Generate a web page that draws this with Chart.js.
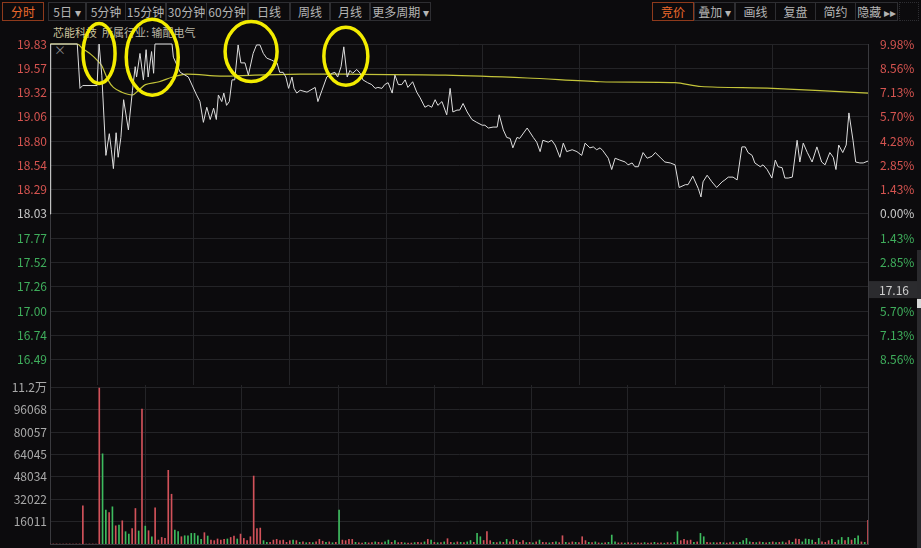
<!DOCTYPE html>
<html>
<head>
<meta charset="utf-8">
<script src="https://cdn.jsdelivr.net/npm/chart.js@4.4.1/dist/chart.umd.min.js"></script>
<style>
html, body { margin: 0; padding: 0; background: #0c0b0d; width: 921px; height: 548px; overflow: hidden;
  font-family: "Noto Sans CJK SC", "Noto Sans", sans-serif; }
.btn { position: absolute; top: 2px; height: 19px; border: 1px solid #2e2e32; color: #b4b4b4; font-size: 12px;
  line-height: 17px; text-align: center; box-sizing: border-box; z-index: 1; }
.on { border-color: #8e3a1c; color: #ee6a2c; }
.title { position: absolute; top: 24px; font-size: 11px; color: #cbc39c; z-index: 1; }
#pc { position: absolute; left: 0; top: 0; z-index: 2; }
#vc { position: absolute; left: 0; top: 373px; z-index: 3; }
#scroll { position: absolute; left: 917px; top: 250px; width: 4px; height: 298px; background: #2a2a2d; z-index: 4; }
#knob { position: absolute; left: 917px; top: 299px; width: 4px; height: 9px; background: #d8d8d8; z-index: 5; }
</style>
</head>
<body>
<div class="btn on" style="left:2px;width:42px">分时</div>
<div class="btn" style="left:48px;width:38px">5日 ▾</div>
<div class="btn" style="left:86px;width:40px">5分钟</div>
<div class="btn" style="left:125px;width:41px">15分钟</div>
<div class="btn" style="left:166px;width:41px">30分钟</div>
<div class="btn" style="left:206px;width:42px">60分钟</div>
<div class="btn" style="left:248px;width:42px">日线</div>
<div class="btn" style="left:290px;width:40px">周线</div>
<div class="btn" style="left:330px;width:40px">月线</div>
<div class="btn" style="left:370px;width:61px">更多周期 ▾</div>
<div class="btn on" style="left:652px;width:42px">竞价</div>
<div class="btn" style="left:694px;width:41px">叠加 ▾</div>
<div class="btn" style="left:735px;width:41px">画线</div>
<div class="btn" style="left:775px;width:41px">复盘</div>
<div class="btn" style="left:815px;width:41px">简约</div>
<div class="btn" style="left:855px;width:43px">隐藏 ▸▸</div>
<div class="btn" style="left:899px;width:20px;border-style:dotted">&nbsp;</div>
<div class="title" style="left:53px">芯能科技</div>
<div class="title" style="left:102px;color:#b9b6a6">所属行业: 输配电气</div>
<div class="title" style="left:54px;top:41px;color:#8a8a8a;font-size:12px">×</div>
<div id="scroll"></div><div id="knob"></div>
<canvas id="pc" width="921" height="397"></canvas>
<canvas id="vc" width="921" height="185"></canvas>
<script>
// 5-day intraday, x axis in trading minutes (5 x 240)
const prevClose = 18.03;
const priceTicks = [19.83, 19.57, 19.32, 19.06, 18.80, 18.54, 18.29, 18.03, 17.77, 17.52, 17.26, 17.00, 16.74, 16.49];
const pctLabels = ['9.98%', '8.56%', '7.13%', '5.70%', '4.28%', '2.85%', '1.43%', '0.00%', '1.43%', '2.85%', '4.28%', '5.70%', '7.13%', '8.56%'];
const volTicks = [16011, 32022, 48034, 64045, 80057, 96068, 112079];
const volLabels = ['16011', '32022', '48034', '64045', '80057', '96068', '11.2万'];
const gridT = [69, 210, 352, 494, 635, 777, 918, 1060];

const priceT = [0, 1, 40, 44, 48, 69, 72, 76, 82, 87, 90, 93, 97, 100, 104, 108, 115, 121, 125, 127,
  132, 137, 141, 144, 149, 152, 154, 179, 181, 191, 203, 215, 220, 225, 230, 235, 240, 244, 247, 252,
  255, 259, 263, 267, 271, 276, 280, 286, 291, 298, 303, 308, 313, 318, 325, 333, 337, 342, 346, 350,
  355, 358, 362, 367, 377, 389, 393, 399, 406, 414, 418, 422, 427, 431, 436, 440, 444, 450, 455, 459,
  466, 472, 477, 481, 487, 491, 496, 502, 506, 511, 516, 521, 525, 532, 538, 543, 550, 555, 560, 565,
  569, 575, 582, 587, 591, 597, 601, 606, 612, 619, 626, 634, 638, 643, 650, 656, 659, 665, 670, 675,
  679, 685, 689, 700, 709, 714, 719, 723, 731, 736, 741, 748, 753, 758, 766, 773, 780, 785, 792, 797,
  802, 807, 811, 819, 824, 829, 836, 844, 848, 854, 858, 863, 870, 876, 883, 888, 895, 902, 910, 917,
  923, 932, 936, 943, 951, 955, 958, 964, 971, 978, 986, 990, 995, 1002, 1008, 1015, 1020, 1024, 1030, 1034,
  1042, 1046, 1052, 1059, 1064, 1068, 1074, 1078, 1083, 1089, 1096, 1100, 1105, 1111, 1118, 1125, 1132, 1137, 1144, 1149,
  1153, 1157, 1163, 1168, 1172, 1178, 1182, 1188, 1193, 1200];
const priceV = [18.03, 19.83, 19.83, 19.36, 19.39, 19.39, 19.83, 19.50, 18.65, 18.88, 18.71, 18.51, 18.89, 18.63, 18.84, 19.24, 18.92, 19.34, 19.59, 19.48,
  19.73, 19.45, 19.77, 19.48, 19.75, 19.52, 19.83, 19.83, 19.69, 19.53, 19.48, 19.29, 19.22, 19.00, 19.16, 19.03, 19.15, 19.03, 19.29, 19.22,
  19.31, 19.18, 19.22, 19.45, 19.45, 19.82, 19.63, 19.63, 19.50, 19.73, 19.82, 19.82, 19.73, 19.68, 19.66, 19.63, 19.53, 19.53, 19.48, 19.36,
  19.48, 19.36, 19.31, 19.34, 19.32, 19.37, 19.22, 19.34, 19.48, 19.52, 19.53, 19.48, 19.59, 19.80, 19.48, 19.55, 19.52, 19.56, 19.52, 19.45,
  19.42, 19.40, 19.36, 19.37, 19.36, 19.40, 19.42, 19.31, 19.50, 19.40, 19.40, 19.45, 19.37, 19.43, 19.32, 19.26, 19.16, 19.18, 19.16, 19.24,
  19.18, 19.22, 19.08, 19.36, 19.11, 19.13, 19.13, 19.20, 19.11, 19.03, 19.00, 18.97, 18.97, 18.94, 18.95, 18.95, 19.08, 18.92, 18.84, 18.83,
  18.73, 18.84, 18.83, 18.94, 18.84, 18.79, 18.69, 18.81, 18.79, 18.81, 18.76, 18.63, 18.78, 18.69, 18.71, 18.69, 18.65, 18.78, 18.73, 18.74,
  18.71, 18.73, 18.70, 18.62, 18.50, 18.62, 18.60, 18.58, 18.55, 18.57, 18.53, 18.53, 18.68, 18.62, 18.64, 18.68, 18.63, 18.58, 18.57, 18.55,
  18.31, 18.34, 18.34, 18.43, 18.30, 18.21, 18.37, 18.44, 18.37, 18.31, 18.37, 18.39, 18.42, 18.42, 18.39, 18.74, 18.74, 18.68, 18.65, 18.57,
  18.53, 18.55, 18.50, 18.41, 18.60, 18.53, 18.52, 18.41, 18.41, 18.42, 18.81, 18.58, 18.78, 18.68, 18.58, 18.74, 18.58, 18.55, 18.68, 18.63,
  18.50, 18.76, 18.68, 18.76, 19.10, 18.81, 18.58, 18.57, 18.57, 18.59];

// average price line
const avgT = [0, 40, 48, 60, 69, 76, 85, 93, 105, 121, 130, 140, 160, 180, 200, 250, 300, 367, 430, 580, 700, 807, 917, 955, 1060, 1200];
const avgV = [19.83, 19.83, 19.78, 19.72, 19.66, 19.60, 19.45, 19.37, 19.32, 19.29, 19.34, 19.40, 19.43, 19.48, 19.51, 19.49, 19.50, 19.51, 19.51, 19.50, 19.47, 19.43, 19.42, 19.38, 19.36, 19.31];

// volume per bar (250 bars across the 5 days); side: r = up tick, g = down tick
const volume = [
  0, 0, 0, 0, 0, 0, 0, 0, 0, 0,
  27300, 0, 0, 0, 0, 111500, 64500, 24200, 22500, 26600,
  13000, 13500, 16600, 8800, 7100, 11100, 25400, 9300, 96500, 12800,
  9500, 5200, 25900, 2800, 4700, 4000, 52700, 35600, 10000, 8800,
  5200, 5900, 5900, 7600, 7600, 5900, 3300, 8100, 5700, 2800,
  2400, 3600, 2800, 3300, 3600, 4700, 5700, 3600, 7100, 4000,
  2400, 5200, 48600, 11100, 11400, 2400, 1200, 1200, 2800, 3300,
  2400, 2800, 1200, 2400, 2800, 2400, 1200, 1500, 900, 1200,
  1000, 1500, 3300, 2000, 1200, 1500, 900, 1200, 24200, 2800,
  2400, 3300, 3300, 1200, 900, 700, 1200, 800, 1000, 1500,
  1200, 900, 1500, 2800, 1200, 2400, 1000, 1200, 800, 600,
  700, 1000, 1200, 900, 1500, 3300, 2800, 1200, 900, 1000,
  1500, 3800, 1200, 900, 1500, 1200, 1000, 1500, 2500, 1200,
  7600, 5200, 2500, 8800, 2400, 1200, 1000, 1500, 1200, 3300,
  1500, 3300, 2400, 1200, 2400, 1000, 1200, 900, 1500, 2800,
  1200, 1000, 800, 1200, 1500, 1000, 5900, 1200, 900, 1500,
  1200, 1000, 5200, 2400, 1200, 1000, 1500, 800, 600, 900,
  1200, 6400, 1500, 800, 900, 700, 1000, 800, 600, 900,
  700, 1000, 600, 800, 1200, 700, 900, 600, 1000, 800,
  1200, 8800, 2400, 3300, 2400, 2800, 1200, 1500, 7600, 5200,
  1200, 900, 1000, 800, 1200, 900, 700, 1000, 1500, 800,
  1200, 2400, 4000, 1500, 1200, 1000, 1500, 1200, 900, 1200,
  1500, 1000, 1200, 1500, 900, 2400, 1200, 3600, 3300, 1500,
  3600, 3300, 2800, 1200, 4000, 1500, 1200, 2400, 3300, 1200,
  2800, 4700, 2400, 4700, 2800, 4000, 5900, 1500, 1200, 17000];
const volSide = (
  'rrrrrrrrrr' + 'rrrrrrggrg' + 'rgrggrrgrg' + 'rgrrrrrrgg' + 'rggggggrgr' +
  'rrrrgrrgrr' + 'rrrrrggrrr' + 'rrrrgrgrgr' + 'grrrgrgrgr' + 'rrrgrrgrrg' +
  'rrggrgrrgr' + 'rgrrgrgrgr' + 'grrgrgrggr' + 'ggrrrgrgrg' + 'rrgrrgrgrg' +
  'rrgrgrrgrr' + 'grrrgrgrgr' + 'gggrrgrrgr' + 'rgrrgrrgrr' + 'ggrrrrgrgg' +
  'rrgrrgrrgr' + 'ggggrgrgrg' + 'rgrgrrgrrg' + 'gggrgrrrgr' + 'ggrgrggrgr').split('');
const cursorPrice = 17.16;
const ringT = [72, 150, 295, 434];
const ringP = [19.73, 19.69, 19.75, 19.70];

const FONT = '"Noto Sans CJK SC", "Noto Sans", sans-serif';
const RED = '#d65450', GREEN = '#3fae5c', GREY = '#c8c8c8';
const GRID = '#242427', EDGE = '#3a3a3e';

const priceColor = v => v > prevClose + 0.001 ? RED : (v < prevClose - 0.001 ? GREEN : GREY);

const ringPlugin = {
  id: 'rings',
  afterDraw(chart) {
    const { ctx, scales: { x, y } } = chart;
    const radii = [[16, 30], [26, 38], [26, 30], [22, 29]];
    ctx.save();
    ctx.strokeStyle = '#f3ec00';
    ctx.lineWidth = 3.5;
    ringT.forEach((t, i) => {
      ctx.beginPath();
      ctx.ellipse(x.getPixelForValue(t), y.getPixelForValue(ringP[i]), radii[i][0], radii[i][1], 0, 0, Math.PI * 2);
      ctx.stroke();
    });
    // hover price tag on the right axis
    const py = y.getPixelForValue(cursorPrice);
    const left = chart.chartArea.right + 1;
    ctx.fillStyle = '#2b2b2e';
    ctx.fillRect(left, py - 15, 48, 17);
    ctx.fillStyle = '#cfcfcf';
    ctx.font = '12px ' + FONT;
    ctx.textAlign = 'center';
    ctx.textBaseline = 'middle';
    ctx.fillText(cursorPrice.toFixed(2), left + 25, py - 6);
    ctx.restore();
  }
};

const xScale = {
  type: 'linear', min: 0, max: 1200,
  afterBuildTicks: s => { s.ticks = gridT.map(v => ({ value: v })); },
  afterFit: s => { s.height = 0; },
  ticks: { display: false },
  grid: { color: GRID, drawTicks: false },
  border: { display: false }
};

new Chart(document.getElementById('pc'), {
  type: 'line',
  data: {
    datasets: [
      { data: priceT.map((t, i) => ({ x: t, y: priceV[i] })), borderColor: '#dedede', borderWidth: 1,
        pointRadius: 0, tension: 0, clip: 8, order: 1 },
      { data: avgT.map((t, i) => ({ x: t, y: avgV[i] })), borderColor: '#c4c43a', borderWidth: 1.2,
        pointRadius: 0, tension: 0.3, clip: 8, order: 2 }
    ]
  },
  options: {
    responsive: false, animation: false, events: [],
    layout: { padding: { top: 44, bottom: 12, left: 0, right: 0 } },
    plugins: { legend: { display: false }, tooltip: { enabled: false } },
    scales: {
      x: xScale,
      y: {
        position: 'left', min: 16.218, max: 19.83,
        afterBuildTicks: s => { s.ticks = priceTicks.map(v => ({ value: v })); },
        afterFit: s => { s.width = 50; },
        ticks: { autoSkip: false, padding: 3, font: { size: 12, family: FONT },
          color: c => priceColor(c.tick.value), callback: v => v.toFixed(2) },
        grid: { color: GRID, drawTicks: false },
        border: { display: true, color: EDGE }
      },
      y1: {
        position: 'right', min: 16.218, max: 19.83,
        afterBuildTicks: s => { s.ticks = priceTicks.map(v => ({ value: v })); },
        afterFit: s => { s.width = 53; },
        ticks: { autoSkip: false, padding: 4, font: { size: 12, family: FONT },
          color: c => priceColor(c.tick.value), callback: (v, i) => pctLabels[i] },
        grid: { display: false },
        border: { display: true, color: EDGE }
      }
    }
  },
  plugins: [ringPlugin]
});

new Chart(document.getElementById('vc'), {
  type: 'bar',
  data: {
    datasets: [{
      data: volume.map((v, i) => ({ x: i * 1200 / (volume.length - 1), y: v })),
      backgroundColor: volSide.map(s => s === 'g' ? '#3dbb5e' : '#d2525a'),
      barThickness: 1, categoryPercentage: 1, barPercentage: 1
    }]
  },
  options: {
    responsive: false, animation: false, events: [],
    layout: { padding: { top: 12, bottom: 14, left: 0, right: 0 } },
    plugins: { legend: { display: false }, tooltip: { enabled: false } },
    scales: {
      x: Object.assign({}, xScale, { offset: false, border: { display: true, color: EDGE } }),
      y: {
        position: 'left', min: 0, max: 113724,
        afterBuildTicks: s => { s.ticks = volTicks.map(v => ({ value: v })); },
        afterFit: s => { s.width = 50; },
        ticks: { autoSkip: false, padding: 3, color: '#a9a9a9', font: { size: 12, family: FONT },
          callback: (v, i) => volLabels[i] },
        grid: { color: GRID, drawTicks: false },
        border: { display: true, color: EDGE }
      },
      y1: {
        position: 'right', min: 0, max: 113724,
        afterFit: s => { s.width = 53; },
        ticks: { display: false },
        grid: { display: false },
        border: { display: true, color: EDGE }
      }
    }
  }
});
</script>
</body>
</html>
